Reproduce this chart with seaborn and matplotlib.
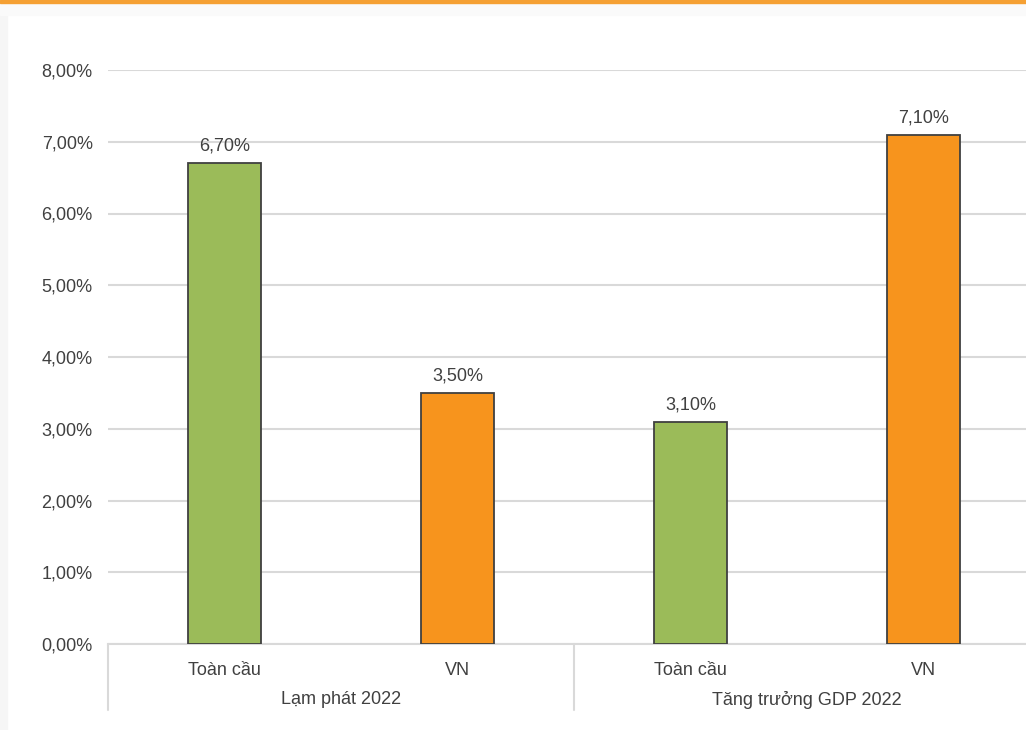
import pandas as pd
import seaborn as sns
import matplotlib.pyplot as plt
from matplotlib.patches import Rectangle
import matplotlib.transforms as mtransforms

# Data
groups = ['Lạm phát 2022', 'Lạm phát 2022', 'Tăng trưởng GDP 2022', 'Tăng trưởng GDP 2022']
regions = ['Toàn cầu', 'VN', 'Toàn cầu', 'VN']
values = [6.70, 3.50, 3.10, 7.10]
group_names = ['Lạm phát 2022', 'Tăng trưởng GDP 2022']
yticks = [0, 1, 2, 3, 4, 5, 6, 7, 8]

df = pd.DataFrame({'Group': groups, 'Region': regions, 'Value': values})
df['Key'] = df['Group'] + ' | ' + df['Region']

sns.set_style('white')
plt.rcParams['font.family'] = ['Liberation Sans', 'DejaVu Sans']
text_color = '#404040'
fs = 13

fig = plt.figure(figsize=(10.26, 7.30), dpi=100)
fig.patch.set_facecolor('white')
# page decorations: orange top rule and light grey margins
fig.add_artist(Rectangle((0, 0), 7 / 1026, 1, transform=fig.transFigure, color='#f6f6f6', zorder=0))
fig.add_artist(Rectangle((0, 1 - 15 / 730), 1, 13 / 730, transform=fig.transFigure, color='#fafafa', zorder=0))
fig.add_artist(Rectangle((0, 1 - 2.5 / 730), 1, 2.5 / 730, transform=fig.transFigure, color='#f5a033', zorder=1))

ax = fig.add_axes([108 / 1026, 86 / 730, 932 / 1026, 574 / 730])
ax.patch.set_alpha(0)

sns.barplot(data=df, x='Key', y='Value', hue='Region', dodge=False,
            palette={'Toàn cầu': '#9bbb59', 'VN': '#f7941d'}, saturation=1,
            width=0.31, edgecolor='#404040', linewidth=1.3, legend=False, ax=ax, zorder=3)

for c in ax.containers:
    ax.bar_label(c, labels=[f'{v:.2f}%'.replace('.', ',') for v in c.datavalues],
                 padding=6, fontsize=fs, color=text_color)

ax.set_ylim(0, 8)
ax.set_xlim(-0.5, 3.5)
ax.set_yticks(yticks)
ax.set_yticklabels([f'{t:.2f}%'.replace('.', ',') for t in yticks], fontsize=fs, color=text_color)
ax.yaxis.grid(True, color='#d9d9d9', linewidth=1.5, zorder=0)
ax.set_axisbelow(True)
ax.tick_params(axis='y', length=0, pad=11)
ax.tick_params(axis='x', length=0, pad=13)
ax.set_xticks(range(len(regions)))
ax.set_xticklabels(regions, fontsize=fs, color=text_color)
ax.set_xlabel('')
ax.set_ylabel('')
for s in ['top', 'right', 'left']:
    ax.spines[s].set_visible(False)
ax.spines['bottom'].set_color('#d9d9d9')
ax.spines['bottom'].set_linewidth(1.5)

# multi-level category axis
trans = mtransforms.blended_transform_factory(ax.transData, ax.transAxes)
for xs in [-0.5, 1.5, 3.5]:
    ax.plot([xs, xs], [0, -66 / 574], transform=trans, color='#d9d9d9', linewidth=1.5, clip_on=False)
for i, g in enumerate(group_names):
    ax.text(2 * i + 0.5, -56 / 574, g, transform=trans, ha='center', va='center',
            fontsize=fs, color=text_color)

fig.savefig('out.png', dpi=100)
